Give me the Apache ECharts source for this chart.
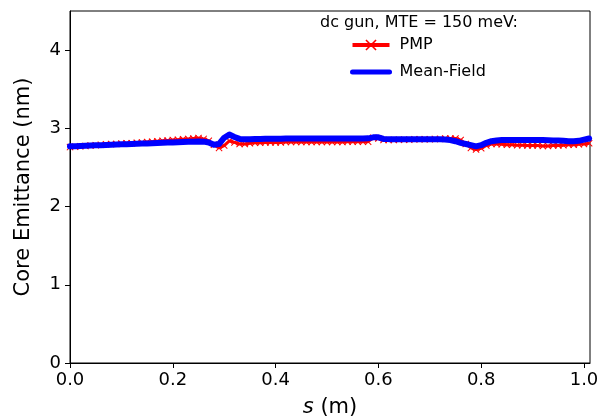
<!DOCTYPE html>
<html>
<head>
<meta charset="utf-8">
<script src="https://cdn.jsdelivr.net/npm/echarts@6/dist/echarts.min.js"></script>
<style>
html,body{margin:0;padding:0;background:#fff;}
#c{width:608px;height:419px;}
</style>
</head>
<body>
<div id="c"></div>
<script>
// s positions (m)
var sValues = [0.00,0.01,0.02,0.03,0.04,0.05,0.06,0.07,0.08,0.09,
  0.10,0.11,0.12,0.13,0.14,0.15,0.16,0.17,0.18,0.19,
  0.20,0.21,0.22,0.23,0.24,0.25,0.26,0.27,0.28,0.29,
  0.30,0.31,0.32,0.33,0.34,0.35,0.36,0.37,0.38,0.39,
  0.40,0.41,0.42,0.43,0.44,0.45,0.46,0.47,0.48,0.49,
  0.50,0.51,0.52,0.53,0.54,0.55,0.56,0.57,0.58,0.59,
  0.60,0.61,0.62,0.63,0.64,0.65,0.66,0.67,0.68,0.69,
  0.70,0.71,0.72,0.73,0.74,0.75,0.76,0.77,0.78,0.79,
  0.80,0.81,0.82,0.83,0.84,0.85,0.86,0.87,0.88,0.89,
  0.90,0.91,0.92,0.93,0.94,0.95,0.96,0.97,0.98,0.99,
  1.00,1.01];

// PMP core emittance (nm)
var pmpValues = [2.76,2.765,2.77,2.775,2.78,2.785,2.79,2.795,2.80,2.80,
  2.805,2.81,2.81,2.815,2.82,2.825,2.83,2.835,2.84,2.845,
  2.85,2.855,2.86,2.865,2.87,2.875,2.865,2.84,2.79,2.75,
  2.78,2.84,2.82,2.80,2.80,2.81,2.815,2.815,2.82,2.82,
  2.82,2.82,2.825,2.825,2.825,2.825,2.825,2.825,2.825,2.825,
  2.825,2.825,2.825,2.825,2.83,2.83,2.83,2.83,2.83,2.88,
  2.87,2.85,2.85,2.85,2.855,2.855,2.855,2.86,2.86,2.86,
  2.86,2.865,2.865,2.87,2.87,2.87,2.85,2.80,2.75,2.73,
  2.745,2.78,2.80,2.80,2.795,2.79,2.79,2.785,2.785,2.78,
  2.78,2.78,2.775,2.775,2.78,2.78,2.785,2.79,2.79,2.795,
  2.80,2.81];

// Mean-Field core emittance (nm)
var mfValues = [2.77,2.772,2.775,2.778,2.78,2.783,2.785,2.788,2.79,2.792,
  2.795,2.797,2.80,2.802,2.805,2.807,2.81,2.812,2.815,2.818,
  2.82,2.822,2.825,2.828,2.83,2.833,2.83,2.82,2.79,2.80,
  2.88,2.92,2.89,2.865,2.86,2.862,2.865,2.865,2.867,2.867,
  2.868,2.868,2.87,2.87,2.87,2.87,2.87,2.87,2.87,2.87,
  2.87,2.87,2.87,2.87,2.87,2.87,2.87,2.87,2.872,2.885,
  2.885,2.865,2.862,2.862,2.862,2.862,2.862,2.862,2.862,2.862,
  2.862,2.86,2.86,2.858,2.85,2.835,2.815,2.80,2.785,2.77,
  2.785,2.815,2.835,2.845,2.85,2.85,2.85,2.85,2.85,2.85,
  2.85,2.85,2.85,2.848,2.846,2.845,2.84,2.835,2.835,2.84,
  2.855,2.87];

var xTicks = [0, 0.2, 0.4, 0.6, 0.8, 1.0];
var yTicks = [0, 1, 2, 3, 4];

function pairs(xs, ys){ return xs.map(function(x,i){ return [x, ys[i]]; }); }

var xMark = 'path://M0,1L1,0L5,4L9,0L10,1L6,5L10,9L9,10L5,6L1,10L0,9L4,5Z';
var FONT = 'DejaVu Sans';

var chart = echarts.init(document.getElementById('c'), null, {renderer:'canvas'});
chart.setOption({
  animation: false,
  backgroundColor: '#fff',
  grid: {left:70, right:18, top:11, bottom:56, show:true, borderColor:'#000', borderWidth:1,
    backgroundColor:'transparent', containLabel:false, outerBoundsMode:'none'},
  graphic: [{
    type:'text', left:320, top:15,
    style:{text:'dc gun, MTE = 150 meV:', font:'16px "DejaVu Sans"', fill:'#000'}
  }],
  legend: {
    orient:'vertical', left:350, top:37, padding:0, itemWidth:37, itemHeight:14, itemGap:11,
    textStyle:{fontFamily:FONT, fontSize:16, color:'#000', padding:[0,0,0,5]},
    data:[
      {name:'PMP', lineStyle:{width:4}},
      {name:'Mean-Field', itemStyle:{opacity:0}, lineStyle:{width:5}}
    ]
  },
  xAxis: {
    type:'value', min:0, max:1.0117,
    name:'{i|s} (m)', nameLocation:'middle', nameGap:34,
    nameTextStyle:{fontFamily:FONT, fontSize:21, color:'#000', rich:{i:{fontFamily:FONT, fontSize:21, fontStyle:'italic', color:'#000'}}},
    axisLine:{show:true, onZero:false, lineStyle:{color:'#000', width:1}},
    axisTick:{show:true, inside:false, length:5, customValues:xTicks, lineStyle:{color:'#000'}},
    axisLabel:{customValues:xTicks, margin:8, fontFamily:FONT, fontSize:18, color:'#000',
      formatter:function(v){ return v.toFixed(1); }},
    splitLine:{show:false}
  },
  yAxis: {
    type:'value', min:0, max:4.5,
    name:'Core Emittance (nm)', nameLocation:'middle', nameGap:36, nameRotate:90,
    nameTextStyle:{fontFamily:FONT, fontSize:21, color:'#000'},
    axisLine:{show:true, onZero:false, lineStyle:{color:'#000', width:1}},
    axisTick:{show:true, inside:false, length:5, customValues:yTicks, lineStyle:{color:'#000'}},
    axisLabel:{customValues:yTicks, margin:9, fontFamily:FONT, fontSize:18, color:'#000'},
    splitLine:{show:false}
  },
  series: [
    {
      name:'PMP', type:'line', data:pairs(sValues, pmpValues),
      symbol:xMark, symbolSize:7, showSymbol:true, showAllSymbol:true,
      itemStyle:{color:'#ff0000'},
      lineStyle:{color:'#ff0000', width:3},
      z:2
    },
    {
      name:'Mean-Field', type:'line', data:pairs(sValues, mfValues),
      symbol:'none', smooth:false,
      itemStyle:{color:'#0000ff'},
      lineStyle:{color:'#0000ff', width:6, cap:'round', join:'round'},
      z:3
    }
  ]
});
</script>
</body>
</html>
